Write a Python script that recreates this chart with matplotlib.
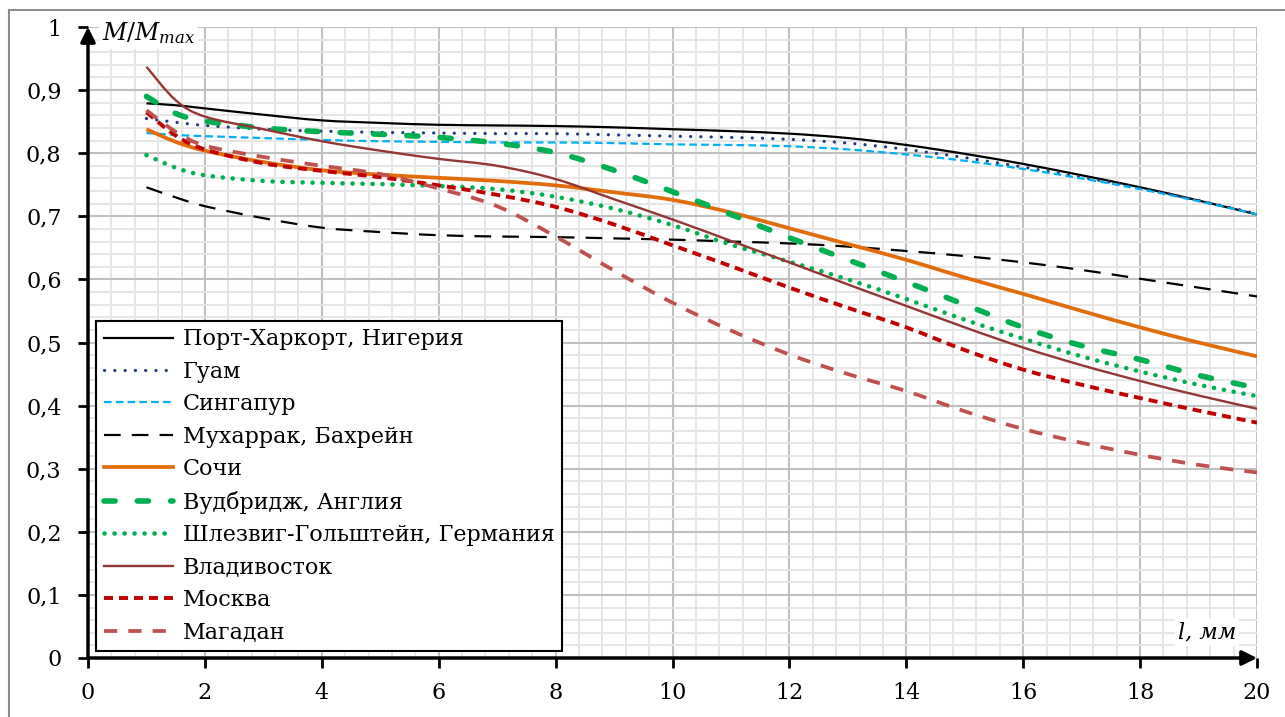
import numpy as np
import matplotlib
matplotlib.use("Agg")
import matplotlib.pyplot as plt
from matplotlib.patches import Rectangle, PathPatch
from matplotlib.path import Path
from matplotlib.lines import Line2D

plt.rcParams['font.family'] = ['DejaVu Serif']
plt.rcParams['mathtext.fontset'] = 'dejavuserif'
plt.rcParams['lines.scale_dashes'] = False
plt.rcParams['patch.force_edgecolor'] = True

# data
l_mm = [1, 1.5, 2, 3, 4, 5, 6, 7, 8, 9, 10, 11, 12, 13, 14, 15, 16, 17, 18, 19, 20]

port_harcourt = [0.879, 0.876, 0.871, 0.861, 0.852, 0.848, 0.845, 0.844, 0.843, 0.841, 0.838,
                 0.835, 0.831, 0.824, 0.813, 0.799, 0.783, 0.765, 0.746, 0.725, 0.703]
guam = [0.855, 0.849, 0.844, 0.838, 0.835, 0.833, 0.832, 0.831, 0.831, 0.829, 0.827,
        0.825, 0.822, 0.816, 0.806, 0.793, 0.778, 0.762, 0.745, 0.725, 0.704]
singapore = [0.832, 0.829, 0.827, 0.824, 0.821, 0.819, 0.818, 0.817, 0.817, 0.816, 0.814,
             0.813, 0.811, 0.806, 0.798, 0.788, 0.775, 0.760, 0.743, 0.724, 0.703]
muharraq = [0.746, 0.730, 0.716, 0.697, 0.682, 0.675, 0.670, 0.668, 0.667, 0.665, 0.663,
            0.660, 0.657, 0.652, 0.645, 0.637, 0.627, 0.615, 0.601, 0.587, 0.573]
sochi = [0.838, 0.818, 0.804, 0.786, 0.773, 0.766, 0.761, 0.756, 0.749, 0.738, 0.726,
         0.706, 0.681, 0.656, 0.631, 0.603, 0.577, 0.550, 0.524, 0.500, 0.478]
woodbridge = [0.890, 0.863, 0.851, 0.840, 0.834, 0.830, 0.825, 0.816, 0.801, 0.773, 0.739,
              0.703, 0.666, 0.631, 0.596, 0.560, 0.524, 0.495, 0.473, 0.448, 0.428]
schleswig = [0.797, 0.777, 0.765, 0.756, 0.753, 0.751, 0.748, 0.743, 0.731, 0.712, 0.686,
             0.655, 0.628, 0.600, 0.569, 0.536, 0.506, 0.478, 0.454, 0.433, 0.415]
vladivostok = [0.937, 0.884, 0.858, 0.838, 0.819, 0.804, 0.791, 0.780, 0.759, 0.727, 0.695,
               0.661, 0.627, 0.592, 0.558, 0.524, 0.492, 0.464, 0.439, 0.416, 0.395]
moscow = [0.865, 0.828, 0.806, 0.784, 0.772, 0.762, 0.749, 0.734, 0.715, 0.687, 0.654,
          0.621, 0.587, 0.555, 0.524, 0.488, 0.457, 0.433, 0.412, 0.392, 0.373]
magadan = [0.868, 0.834, 0.812, 0.794, 0.780, 0.767, 0.744, 0.716, 0.668, 0.614, 0.563,
           0.519, 0.481, 0.450, 0.423, 0.391, 0.363, 0.341, 0.322, 0.306, 0.294]

names = ['Порт-Харкорт, Нигерия', 'Гуам', 'Сингапур', 'Мухаррак, Бахрейн', 'Сочи',
         'Вудбридж, Англия', 'Шлезвиг-Гольштейн, Германия', 'Владивосток', 'Москва', 'Магадан']

x_ticks = [0, 2, 4, 6, 8, 10, 12, 14, 16, 18, 20]
y_ticks = [0, 0.1, 0.2, 0.3, 0.4, 0.5, 0.6, 0.7, 0.8, 0.9, 1.0]
y_tick_labels = ['0', '0,1', '0,2', '0,3', '0,4', '0,5', '0,6', '0,7', '0,8', '0,9', '1']


def smooth_path(x, y):
    # excel style smoothed line: bezier segments through the data points
    p = np.column_stack([x, y])
    verts = [p[0]]
    codes = [Path.MOVETO]
    n = len(p)
    for i in range(n - 1):
        p0 = p[i - 1] if i > 0 else p[i]
        p3 = p[i + 2] if i + 2 < n else p[i + 1]
        verts += [p[i] + (p[i + 1] - p0) / 6, p[i + 1] - (p3 - p[i]) / 6, p[i + 1]]
        codes += [Path.CURVE4] * 3
    return Path(verts, codes)


fig = plt.figure(figsize=(12.85, 7.17), dpi=100)
fig.patches.append(Rectangle((9/1285, -0.1), 1.2, 1 - 10/717 + 0.1, transform=fig.transFigure,
                             fill=False, edgecolor='#8c8c8c', lw=1.5))
ax = fig.add_axes([88/1285, 1 - 658/717, 1169/1285, 631/717])

# grid like excel
ax.set_xticks(np.arange(0, 20.01, 0.4), minor=True)
ax.set_yticks(np.arange(0, 1.001, 0.02), minor=True)
ax.grid(which='minor', color='#e6e6e6', lw=1.4, zorder=0)
ax.grid(which='major', color='#c0c0c0', lw=1.5, zorder=0)
ax.set_axisbelow(True)

styles = [
    dict(color='black', lw=1.6, ls='-', cap='butt'),
    dict(color='#1F3D7A', lw=2.3, ls=(0, (0.1, 7.3)), cap='round'),
    dict(color='#00B0F0', lw=1.6, ls=(0, (5.5, 3)), cap='butt'),
    dict(color='black', lw=1.6, ls=(0, (12, 8)), cap='butt'),
    dict(color='#E36C0A', lw=2.7, ls='-', cap='butt'),
    dict(color='#00B050', lw=4.0, ls=(0, (8, 16)), cap='round'),
    dict(color='#00B050', lw=3.3, ls=(0, (0.1, 7.1)), cap='round'),
    dict(color='#943634', lw=1.7, ls='-', cap='butt'),
    dict(color='#C00000', lw=2.8, ls=(0, (6.5, 4.3)), cap='butt'),
    dict(color='#C0504D', lw=2.7, ls=(0, (9.5, 8)), cap='butt'),
]
series = [port_harcourt, guam, singapore, muharraq, sochi, woodbridge, schleswig,
          vladivostok, moscow, magadan]
handles = []
for s, name, st in zip(series, names, styles):
    patch = PathPatch(smooth_path(l_mm, s), fill=False, edgecolor=st['color'], lw=st['lw'],
                      linestyle=st['ls'], capstyle=st['cap'], zorder=3)
    ax.add_patch(patch)
    handles.append(Line2D([], [], color=st['color'], lw=st['lw'], linestyle=st['ls'],
                          dash_capstyle=st['cap'], label=name))

ax.set_xlim(0, 20)
ax.set_ylim(0, 1)
ax.set_xticks(x_ticks)
ax.set_xticklabels([str(v) for v in x_ticks])
ax.set_yticks(y_ticks)
ax.set_yticklabels(y_tick_labels)
ax.tick_params(which='major', length=7, width=2, labelsize=16, color='black')
ax.tick_params(axis='y', pad=12)
ax.tick_params(axis='x', pad=10)
ax.tick_params(which='minor', length=0)

for sp in ax.spines.values():
    sp.set_visible(False)
# axes with arrows
ax.annotate('', xy=(0, 1), xytext=(0, 0), xycoords='axes fraction',
            arrowprops=dict(arrowstyle='-|>', lw=2.5, color='black', mutation_scale=22,
                            shrinkA=0, shrinkB=0))
ax.annotate('', xy=(1, 0), xytext=(0, 0), xycoords='axes fraction',
            arrowprops=dict(arrowstyle='-|>', lw=2.5, color='black', mutation_scale=22,
                            shrinkA=0, shrinkB=0))

ax.text(0.012, 0.99, r'$M/M_{max}$', transform=ax.transAxes, fontsize=17, va='center',
        ha='left', bbox=dict(facecolor='white', edgecolor='none', pad=2))
ax.text(0.932, 0.041, 'l, мм', transform=ax.transAxes, fontsize=16, va='center',
        ha='left', style='italic', bbox=dict(facecolor='white', edgecolor='none', pad=2))

leg = ax.legend(handles=handles, loc='lower left', bbox_to_anchor=(0.007, 0.011),
                borderaxespad=0, fontsize=16, handlelength=3.1, labelspacing=0.47,
                borderpad=0.35, handletextpad=0.45, fancybox=False, framealpha=1)
leg.get_frame().set_edgecolor('black')
leg.get_frame().set_linewidth(1.5)
leg.set_zorder(5)

plt.savefig('out.png', dpi=100)
